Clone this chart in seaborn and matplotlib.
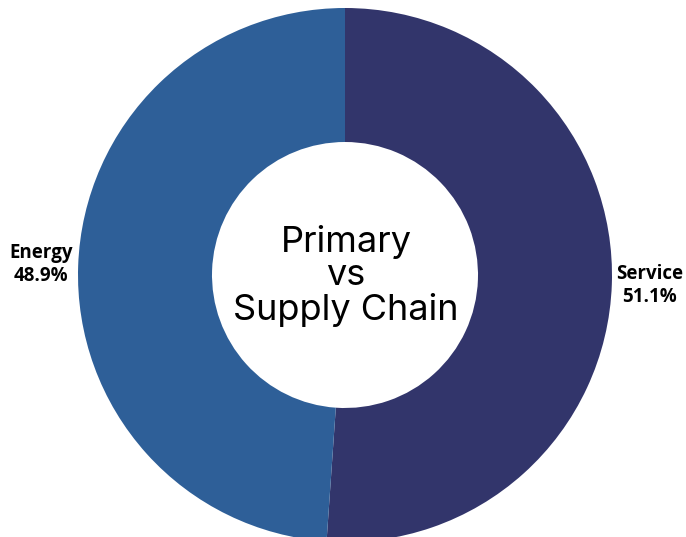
import matplotlib.pyplot as plt
import seaborn as sns

# Share of primary vs supply chain
categories = ['Service', 'Energy']
shares = [51.1, 48.9]
colors = ['#32356b', '#2e5f98']
center_title = 'Primary\nvs\nSupply Chain'

sns.set_theme(style="white")
plt.rcParams['font.family'] = ['Open Sans', 'DejaVu Sans']

fig = plt.figure(figsize=(6.86, 5.37), dpi=100)
ax = fig.add_axes([0, 0, 1, 1])

labels = [f'{c}\n{s:.1f}%' for c, s in zip(categories, shares)]
ax.pie(shares, labels=labels, colors=colors, startangle=90, counterclock=False,
       center=(345, 262), radius=267, labeldistance=1.14,
       wedgeprops=dict(width=134, linewidth=0),
       textprops=dict(ha='center', va='center', fontsize=13.5,
                      fontweight='bold', color='black', linespacing=1.25),
       frame=True)
ax.set_xlim(0, 686)
ax.set_ylim(0, 537)
ax.set_aspect('equal')
ax.axis('off')

ax.text(346, 261, center_title, ha='center', va='center', fontsize=26,
        family=['Inter', 'DejaVu Sans'], linespacing=1.02, color='black')

plt.savefig('out.png', dpi=100)
